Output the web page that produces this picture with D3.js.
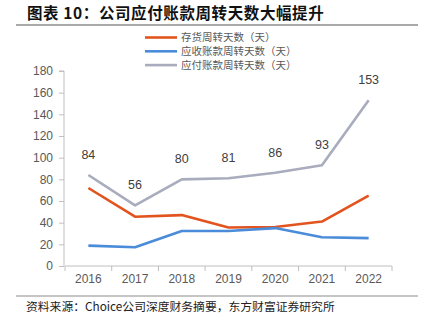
<!DOCTYPE html>
<html><head><meta charset="utf-8">
<script src="https://cdn.jsdelivr.net/npm/d3@7"></script>
<style>body{margin:0;background:#fff}svg{display:block}</style>
</head><body>
<script>
const years = ["2016","2017","2018","2019","2020","2021","2022"];
const inventoryDays = [72, 45.5, 47, 35.5, 36, 41, 65];
const receivableDays = [18.8, 17.3, 32.3, 32.3, 35, 26.5, 25.7];
const payableDays = [84, 56, 80, 81, 86, 93, 153];
const yTicks = [0,20,40,60,80,100,120,140,160,180];
const seriesNames = ["存货周转天数（天）", "应收账款周转天数（天）", "应付账款周转天数（天）"];
const seriesColors = ["#E2531E", "#4A8BDA", "#A8ACBC"];

const W = 424, H = 325;
const svg = d3.select("body").append("svg").attr("width", W).attr("height", H);
const cjk = "'Noto Sans CJK SC', sans-serif";
const latin = "'Liberation Sans', Arial, sans-serif";

svg.append("text").attr("x", 27).attr("y", 19).attr("font-family", cjk).attr("font-weight", "bold")
  .attr("font-size", 15.5).attr("letter-spacing", 0.6).attr("fill", "#111").text("图表 10：公司应付账款周转天数大幅提升");
svg.append("line").attr("x1", 16).attr("x2", 418).attr("y1", 25).attr("y2", 25).attr("stroke", "#8c8c8c").attr("stroke-width", 1.5);
svg.append("line").attr("x1", 16).attr("x2", 418).attr("y1", 296).attr("y2", 296).attr("stroke", "#8c8c8c").attr("stroke-width", 1.2);
svg.append("text").attr("x", 26).attr("y", 311).attr("font-family", cjk).attr("font-size", 11.8).attr("fill", "#222")
  .text("资料来源：Choice公司深度财务摘要，东方财富证券研究所");

const x = d3.scaleBand().domain(years).range([65, 392]);
const y = d3.scaleLinear().domain([0, 180]).range([266, 71]);

const yAxis = svg.append("g").attr("transform", "translate(64,0)")
  .call(d3.axisLeft(y).tickValues(yTicks).tickSize(5).tickPadding(6));
const xAxis = svg.append("g").attr("transform", "translate(0,266)")
  .call(d3.axisBottom(x).tickSize(0).tickPadding(8));
xAxis.selectAll(".tick").append("line").attr("x1", -x.bandwidth()/2).attr("x2", -x.bandwidth()/2).attr("y1", 0).attr("y2", 5).attr("stroke", "#bfbfbf");
xAxis.append("line").attr("x1", x.range()[1]).attr("x2", x.range()[1]).attr("y1", 0).attr("y2", 5).attr("stroke", "#bfbfbf");
[yAxis, xAxis].forEach(g => {
  g.select(".domain").attr("stroke", "#bfbfbf");
  g.selectAll(".tick line").attr("stroke", "#bfbfbf");
  g.selectAll("text").attr("font-family", latin).attr("font-size", 12).attr("fill", "#595959");
});
yAxis.select(".domain").attr("d", "M-5,71H0V266");
xAxis.select(".domain").attr("d", "M65,0H392");

const line = d3.line().x((d, i) => x(years[i]) + x.bandwidth()/2).y(d => y(d));
[inventoryDays, receivableDays, payableDays].forEach((data, k) => {
  svg.append("path").datum(data).attr("d", line).attr("fill", "none")
    .attr("stroke", seriesColors[k]).attr("stroke-width", 2.6).attr("stroke-linejoin", "round");
});
svg.selectAll(".lbl").data(payableDays).enter().append("text")
  .attr("x", (d, i) => x(years[i]) + x.bandwidth()/2).attr("y", d => y(d) - 16)
  .attr("text-anchor", "middle").attr("font-family", latin).attr("font-size", 12.5).attr("fill", "#404040")
  .text(d => d);

const lg = svg.append("g");
seriesNames.forEach((n, k) => {
  const yy = 37.5 + k * 13.8;
  lg.append("line").attr("x1", 145).attr("x2", 177).attr("y1", yy).attr("y2", yy).attr("stroke", seriesColors[k]).attr("stroke-width", 2.6);
  lg.append("text").attr("x", 181).attr("y", yy + 3.8).attr("font-family", cjk).attr("font-size", 10.5).attr("fill", "#595959").text(n);
});
</script>
</body></html>
